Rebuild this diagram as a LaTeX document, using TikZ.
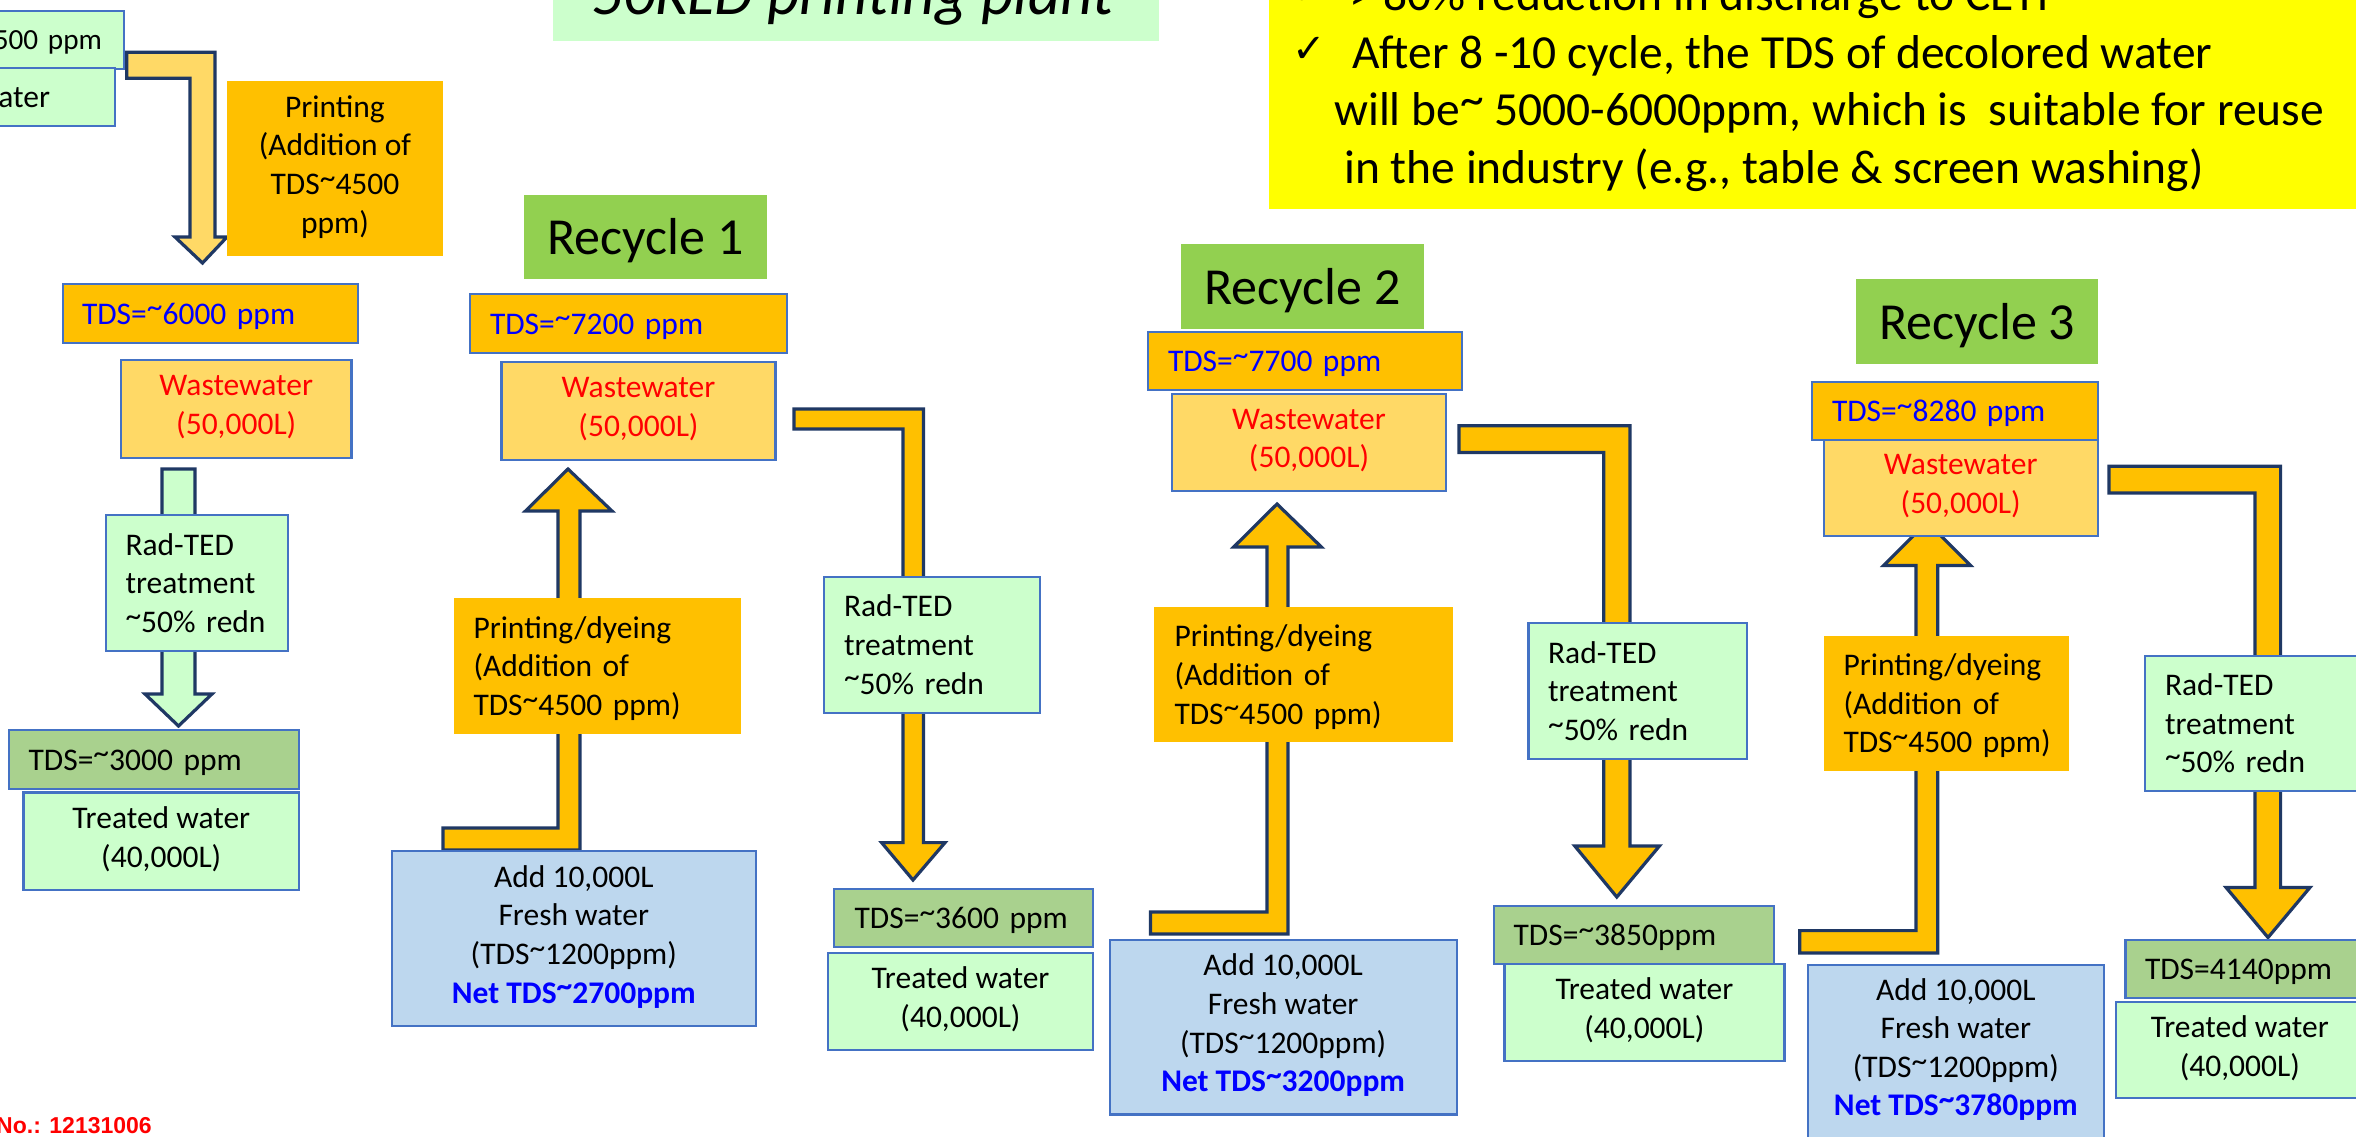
\documentclass[tikz,border=0pt]{standalone}
\usepackage{fontspec}
\setmainfont{Carlito}
\newfontfamily\dejavufam{DejaVu Sans}
\newfontfamily\arialfam{Liberation Sans}
\definecolor{cOrange}{HTML}{FFC000}
\definecolor{cLYellow}{HTML}{FFD966}
\definecolor{cLGreen}{HTML}{CCFFCC}
\definecolor{cMGreen}{HTML}{A9D18E}
\definecolor{cRGreen}{HTML}{92D050}
\definecolor{cLBlue}{HTML}{BDD7EE}
\definecolor{cBorder}{HTML}{4472C4}
\definecolor{cNavy}{HTML}{1F3864}
\definecolor{cYellow}{HTML}{FFFF00}
\newcommand\myfsN{\fontsize{31.5}{38.6}\selectfont}
\newcommand\myfsA{\fontsize{29.2}{36}\selectfont}
\newcommand\myfsR{\fontsize{52}{62}\selectfont}
\newcommand\myfsY{\fontsize{47.5}{57}\selectfont}
\newcommand\myfsT{\fontsize{63}{70}\selectfont\itshape}
\newcommand\mystrut{\rule[-0.269em]{0pt}{1.221em}}
\newcommand\mytld{\raisebox{0.2em}{\textasciitilde}}
\begin{document}
\begin{tikzpicture}[x=1pt,y=-1pt,
  corners/.style n args={4}{anchor=center, at={({((#1)+(#3))/2},{((#2)+(#4))/2})}, minimum width={(#3)-(#1)}, minimum height={(#4)-(#2)}},
  bxs/.style={inner sep=0pt, outer sep=0pt, line width=2.2pt, font=\myfsN, execute at begin node=\mystrut, execute at end node=\mystrut},
  bordered/.style={draw=cBorder},
  blockarr/.style={draw=cNavy, line width=3.2pt, line join=miter, fill=cOrange},
  ytext/.style={anchor=base west, inner sep=0pt, font=\myfsY},
  cktext/.style={anchor=base west, inner sep=0pt, font=\dejavufam\fontsize{40}{40}\selectfont}
]
\useasboundingbox (0,0) rectangle (2356,1136);
\clip (0,0) rectangle (2356,1136);
\fill[white] (0,0) rectangle (2356,1136);

% title and note
\node[bxs, fill=cLGreen, corners={553}{-30}{1159}{40.7}] (titlebox) {};
\node[anchor=base, inner sep=0pt, font=\myfsT] (title) at (852.5,14) {50KLD printing plant};
\node[bxs, fill=cYellow, corners={1269}{-30}{2400}{209}] (note) {};
\node[cktext] (ck1) at (1292,4) {✓};
\node[ytext] (yl1) at (1349,10) {>~80\%~reduction~in~discharge~to~CETP};
\node[cktext] (ck2) at (1292,62) {✓};
\node[ytext] (yl2) at (1352,68) {After~8~-10~cycle,~the~TDS~of~decolored~water};
\node[ytext] (yl3) at (1334,125) {will~be\mytld{}~5000-6000ppm,~which~is\ \ suitable~for~reuse};
\node[ytext] (yl4) at (1344,183) {in~the~industry~(e.g.,~table~\&~screen~washing)};

% block arrows
\draw[blockarr, fill=cLYellow] (126.7,52.3) -- (215,52.3) -- (215,237) -- (227,237) -- (202.5,263) -- (175,237) -- (190,237) -- (190,78.3) -- (126.7,78.3) -- cycle;
\draw[blockarr, fill=cLGreen] (162,469) -- (195,469) -- (195,694) -- (212,694) -- (178.5,726) -- (145,694) -- (162,694) -- cycle;
\draw[blockarr] (443,850) -- (580,850) -- (580,511) -- (612,511) -- (568,469) -- (525.5,511) -- (558,511) -- (558,828) -- (443,828) -- cycle;
\draw[blockarr] (794,409) -- (923.5,409) -- (923.5,842.6) -- (945,842.6) -- (913,880) -- (881.6,842.6) -- (903,842.6) -- (903,429) -- (794,429) -- cycle;
\draw[blockarr] (1150.5,934) -- (1288,934) -- (1288,547) -- (1321.4,547) -- (1277,504) -- (1233.7,547) -- (1267,547) -- (1267,912) -- (1150.5,912) -- cycle;
\draw[blockarr] (1459,425.8) -- (1630,425.8) -- (1630,846) -- (1659.4,846) -- (1616.8,897) -- (1574.8,846) -- (1603.7,846) -- (1603.7,452.5) -- (1459,452.5) -- cycle;
\draw[blockarr] (1799.7,953) -- (1937.8,953) -- (1937.8,565.5) -- (1970.5,565.5) -- (1927,522) -- (1883.7,565.5) -- (1916,565.5) -- (1916,930.6) -- (1799.7,930.6) -- cycle;
\draw[blockarr] (2109,466.3) -- (2280.6,466.3) -- (2280.6,887.4) -- (2310,887.4) -- (2268,937.5) -- (2226,887.4) -- (2255,887.4) -- (2255,493) -- (2109,493) -- cycle;

% top-left boxes
\node[bxs, bordered, fill=cLGreen, corners={-200}{11}{124.3}{69}, text width=279.7pt, align=right, font=\myfsA] (boxA) {TDS=\mytld 1500~ppm};
\node[bxs, bordered, fill=cLGreen, corners={-200}{68}{114.7}{126}, text width=185.3pt, align=right] (boxB) {Fresh~water};
\node[bxs, fill=cOrange, corners={227}{81}{443}{256}, align=center] (print0) {Printing\\(Addition~of\\TDS\mytld 4500\\ppm)};

% recycle labels
\node[bxs, fill=cRGreen, corners={524}{195}{767}{279}, font=\myfsR] (rec1) {Recycle~1};
\node[bxs, fill=cRGreen, corners={1181}{244}{1424}{329}, font=\myfsR] (rec2) {Recycle~2};
\node[bxs, fill=cRGreen, corners={1856}{279}{2098}{364}, font=\myfsR] (rec3) {Recycle~3};

% TDS of wastewater
\node[bxs, bordered, fill=cOrange, text=blue, align=left, text width=257pt, corners={63}{284}{358}{343}] (ta) {TDS=\mytld 6000~ppm};
\node[bxs, bordered, fill=cOrange, text=blue, align=left, text width=277pt, corners={470}{294}{787}{353}] (tb) {TDS=\mytld 7200~ppm};
\node[bxs, bordered, fill=cOrange, text=blue, align=left, text width=274pt, corners={1148}{332}{1462}{390}] (tc) {TDS=\mytld 7700~ppm};
\node[bxs, bordered, fill=cOrange, text=blue, align=left, text width=246pt, corners={1812}{382}{2098}{440}] (td) {TDS=\mytld 8280~ppm};

% wastewater
\node[bxs, bordered, fill=cLYellow, text=red, align=center, corners={121}{360}{351.5}{458}] (wa) {Wastewater\\(50,000L)};
\node[bxs, bordered, fill=cLYellow, text=red, align=center, corners={501.5}{362}{775.5}{460}] (wb) {Wastewater\\(50,000L)};
\node[bxs, bordered, fill=cLYellow, text=red, align=center, corners={1172}{394}{1446}{491}] (wc) {Wastewater\\(50,000L)};
\node[bxs, bordered, fill=cLYellow, text=red, align=center, corners={1823.7}{440}{2097.7}{536}] (wd) {Wastewater\\(50,000L)};

% Rad-TED
\node[bxs, bordered, fill=cLGreen, align=left, text width=143pt, corners={106}{515}{288}{651}] (rta) {Rad-TED\\treatment\\\mytld 50\%~redn};
\node[bxs, bordered, fill=cLGreen, align=left, text width=176pt, corners={824}{577}{1040}{712.6}] (rtb) {Rad-TED\\treatment\\\mytld 50\%~redn};
\node[bxs, bordered, fill=cLGreen, align=left, text width=179pt, corners={1528.4}{623}{1746.7}{759}] (rtc) {Rad-TED\\treatment\\\mytld 50\%~redn};
\node[bxs, bordered, fill=cLGreen, align=left, text width=178pt, corners={2145}{656}{2363}{791}] (rtd) {Rad-TED\\treatment\\\mytld 50\%~redn};

% TDS of treated water
\node[bxs, bordered, fill=cMGreen, align=left, text width=250.8pt, corners={9}{730}{299}{789}] (ga) {TDS=\mytld 3000~ppm};
\node[bxs, bordered, fill=cMGreen, align=left, text width=217.8pt, corners={834}{889}{1093}{947}] (gb) {TDS=\mytld 3600~ppm};
\node[bxs, bordered, fill=cMGreen, align=left, text width=240.8pt, corners={1494}{906}{1774}{964}] (gc) {TDS=\mytld 3850ppm};
\node[bxs, bordered, fill=cMGreen, align=left, text width=255.5pt, corners={2125.5}{940}{2420}{998}] (gd) {TDS=4140ppm};

% treated water
\node[bxs, bordered, fill=cLGreen, align=center, corners={23.5}{792.5}{299}{890}] (twa) {Treated~water\\(40,000L)};
\node[bxs, bordered, fill=cLGreen, align=center, corners={828}{953}{1093}{1050}] (twb) {Treated~water\\(40,000L)};
\node[bxs, bordered, fill=cLGreen, align=center, corners={1504.4}{964}{1784.4}{1060.7}] (twc) {Treated~water\\(40,000L)};
\node[bxs, bordered, fill=cLGreen, align=center, corners={2115.7}{1002}{2364}{1098}] (twd) {Treated~water\\(40,000L)};

% printing / dyeing
\node[bxs, fill=cOrange, align=left, text width=248pt, corners={454}{598}{741}{734}] (pda) {Printing/dyeing\\(Addition~of\\TDS\mytld 4500~ppm)};
\node[bxs, fill=cOrange, align=left, text width=257.6pt, corners={1154}{607}{1452.6}{742.4}] (pdb) {Printing/dyeing\\(Addition~of\\TDS\mytld 4500~ppm)};
\node[bxs, fill=cOrange, align=left, text width=206pt, corners={1823.7}{635.8}{2069.3}{771.2}] (pdc) {Printing/dyeing\\(Addition~of\\TDS\mytld 4500~ppm)};

% fresh water
\node[bxs, bordered, fill=cLBlue, align=center, corners={392}{851}{755.6}{1026}] (fa) {Add~10,000L\\Fresh~water\\(TDS\mytld 1200ppm)\\{\bfseries\color{blue}Net~TDS\mytld 2700ppm}};
\node[bxs, bordered, fill=cLBlue, align=center, corners={1109.7}{939.7}{1456.6}{1114.5}] (fb) {Add~10,000L\\Fresh~water\\(TDS\mytld 1200ppm)\\{\bfseries\color{blue}Net~TDS\mytld 3200ppm}};
\node[bxs, bordered, fill=cLBlue, align=center, corners={1807.7}{964.7}{2104}{1138}] (fc) {Add~10,000L\\Fresh~water\\(TDS\mytld 1200ppm)\\{\bfseries\color{blue}Net~TDS\mytld 3780ppm}};

% registration number
\node[anchor=base east, inner sep=0pt, text=red, font=\arialfam\bfseries\fontsize{23}{23}\selectfont] (regno) at (152,1133) {No.: 12131006};
\end{tikzpicture}
\end{document}
